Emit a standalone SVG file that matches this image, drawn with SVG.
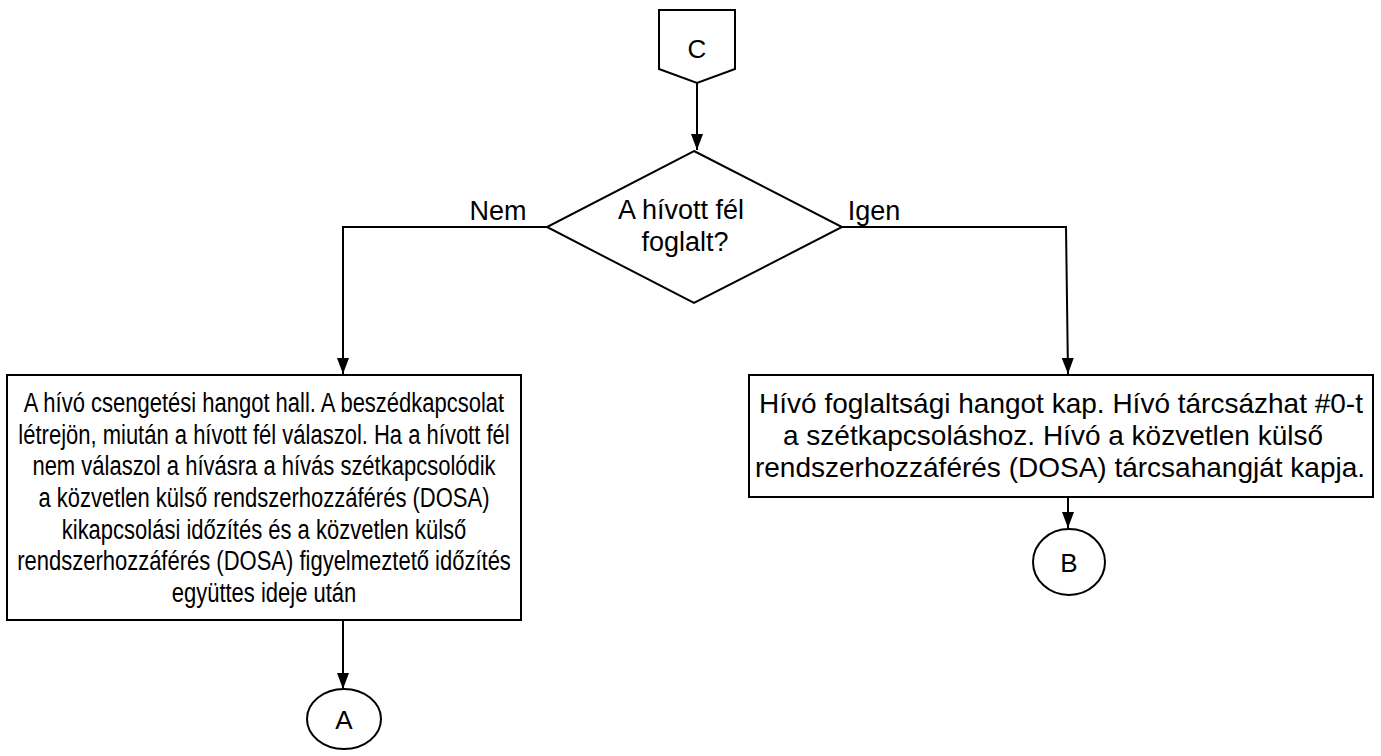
<svg xmlns="http://www.w3.org/2000/svg" width="1381" height="756" viewBox="0 0 1381 756">
<defs>
<style>
.shape{fill:#fff;stroke:#000;stroke-width:2}
.conn{fill:none;stroke:#000;stroke-width:2}
text{font-family:"Liberation Sans",Arial,sans-serif;fill:#000;text-anchor:middle}
.lbl{font-size:27px}
.lt{font-size:27px}
.rt{font-size:28px}
.cn{font-size:26px}
</style>
<marker id="arr" viewBox="0 0 16 12" refX="16" refY="6" markerWidth="16" markerHeight="12" markerUnits="userSpaceOnUse" orient="auto">
<path d="M0,0 L16,6 L0,12 Z" fill="#000"/>
</marker>
</defs>
<rect width="1381" height="756" fill="#fff"/>
<g id="connectors">
<path class="conn" d="M697,83 L697,150" marker-end="url(#arr)"/>
<path class="conn" d="M547,227 L343,227 L343,374" marker-end="url(#arr)"/>
<path class="conn" d="M842,227 L1066,227 L1068,374" marker-end="url(#arr)"/>
<path class="conn" d="M343,620 L343,689" marker-end="url(#arr)"/>
<path class="conn" d="M1068,497 L1068,528" marker-end="url(#arr)"/>
<text class="lbl" x="498" y="220">Nem</text>
<text class="lbl" x="874" y="220">Igen</text>
</g>
<g id="nodeC">
<polygon class="shape" points="659,10 735,10 735,69 697,83 659,69"/>
<text class="cn" x="697" y="58">C</text>
</g>
<g id="decision">
<polygon class="shape" points="694,151 842,227 694,303 547,227"/>
<text class="lbl" x="681" y="219">A hívott fél</text>
<text class="lbl" x="685" y="251">foglalt?</text>
</g>
<g id="boxLeft">
<rect class="shape" x="7" y="375" width="514" height="245"/>
<g transform="translate(264,0) scale(0.815,1)">
<text class="lt"><tspan x="0" y="412">A hívó csengetési hangot hall. A beszédkapcsolat</tspan><tspan x="0" y="443.7">létrejön, miután a hívott fél válaszol. Ha a hívott fél</tspan><tspan x="0" y="475.3">nem válaszol a hívásra a hívás szétkapcsolódik</tspan><tspan x="0" y="507">a közvetlen külső rendszerhozzáférés (DOSA)</tspan><tspan x="0" y="538.7">kikapcsolási időzítés és a közvetlen külső</tspan><tspan x="0" y="570.3">rendszerhozzáférés (DOSA) figyelmeztető időzítés</tspan><tspan x="0" y="602">együttes ideje után</tspan></text>
</g>
</g>
<g id="boxRight">
<rect class="shape" x="749" y="375" width="624" height="122"/>
<text class="rt"><tspan x="1061" y="413">Hívó foglaltsági hangot kap. Hívó tárcsázhat #0-t</tspan><tspan x="1053" y="445">a szétkapcsoláshoz. Hívó a közvetlen külső</tspan><tspan x="1060" y="477">rendszerhozzáférés (DOSA) tárcsahangját kapja.</tspan></text>
</g>
<g id="nodeA">
<ellipse class="shape" cx="344" cy="719" rx="37" ry="30"/>
<text class="cn" x="344" y="729">A</text>
</g>
<g id="nodeB">
<ellipse class="shape" cx="1069" cy="562" rx="36" ry="33"/>
<text class="cn" x="1069" y="572">B</text>
</g>
</svg>
